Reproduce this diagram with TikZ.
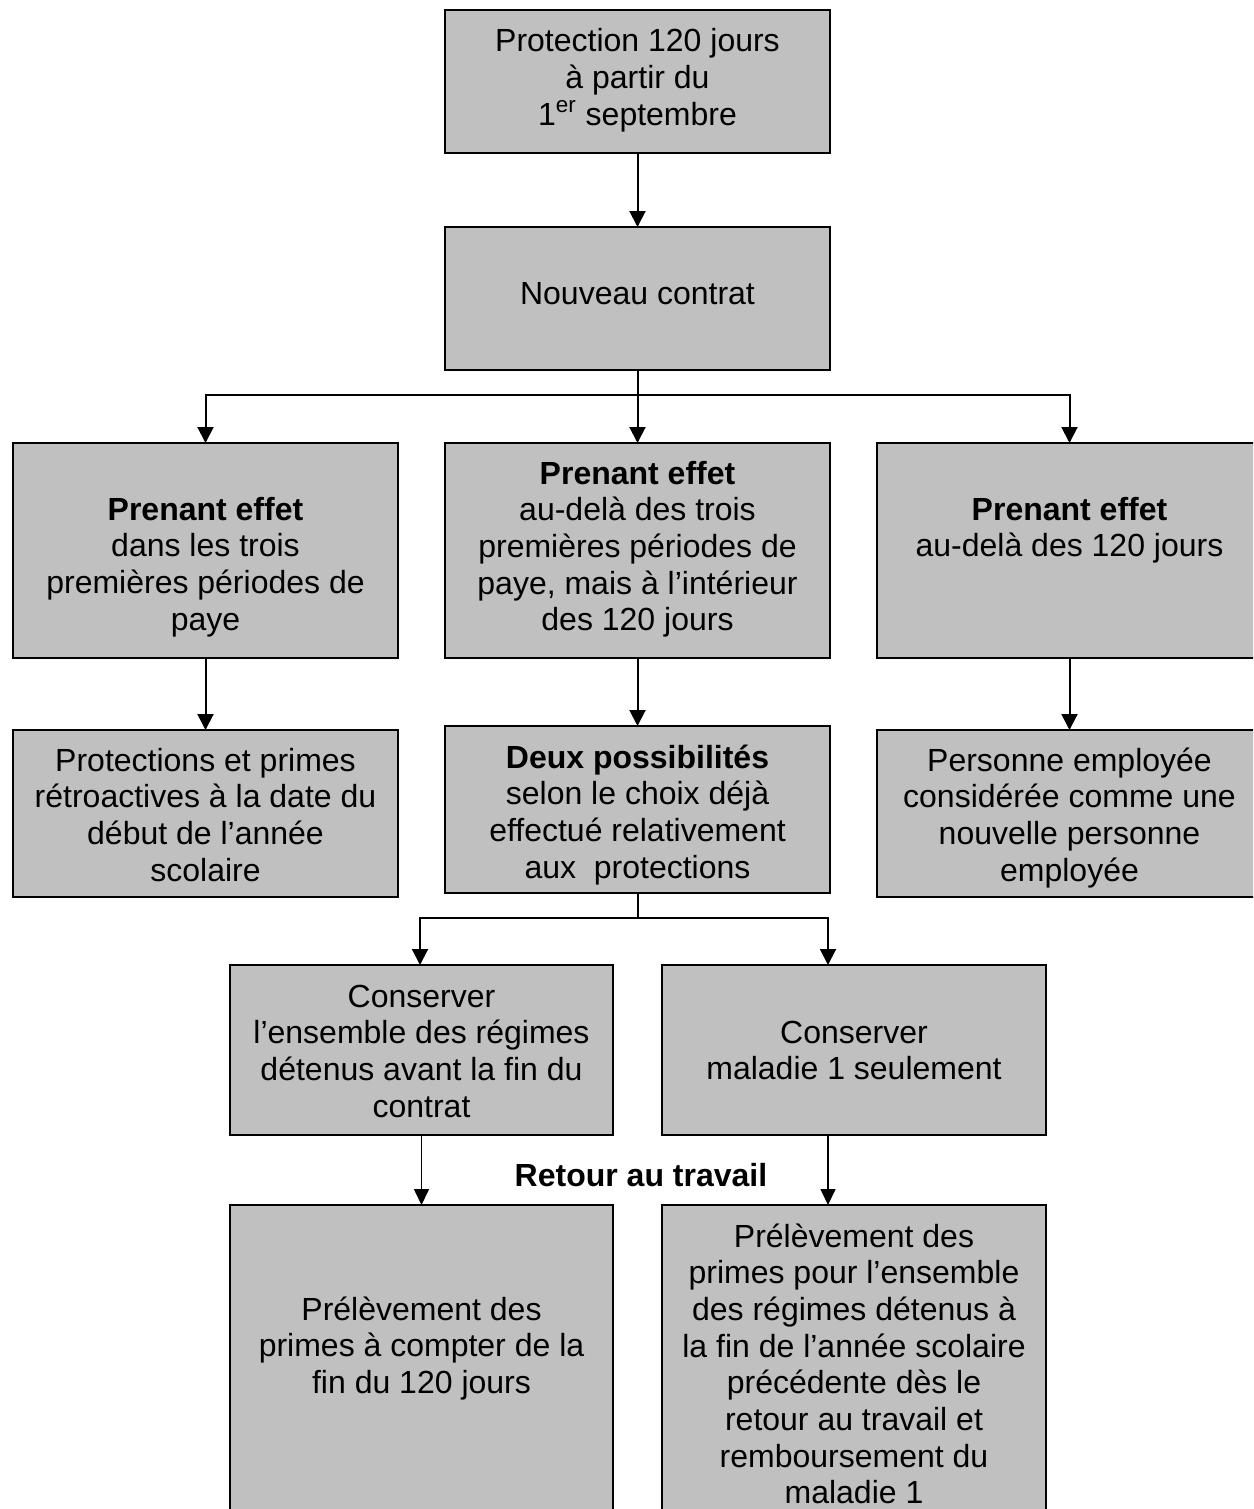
\documentclass[tikz,border=0pt]{standalone}
\usepackage{fontspec}
\setmainfont{Liberation Sans}
\usetikzlibrary{arrows.meta,calc}
\definecolor{boxgray}{HTML}{C0C0C0}
\newcommand\mlines[1]{\vtop{\baselineskip=18.35pt\lineskiplimit=-100pt\lineskip=0pt\halign{\hfil##\hfil\cr#1\crcr}}}
\tikzset{
  box/.style={rectangle, draw=black, fill=boxgray, line width=1pt, inner sep=0pt, outer sep=0pt, minimum width=192.5pt},
  txt/.style={anchor=base, inner sep=0pt, outer sep=0pt, font=\fontsize{16}{18.35}\selectfont},
  arr/.style={line width=1pt, -{Triangle[width=8pt,length=8pt]}},
  arrthin/.style={line width=0.8pt, -{Triangle[width=7.5pt,length=8pt]}}
}
\begin{document}
\begin{tikzpicture}[x=0.5pt,y=-0.5pt]
\useasboundingbox (0,0) rectangle (1253,1509);
\clip (0,0) rectangle (1253,1509);
% boxes
\node[box, minimum height=71.5pt] (b1) at (637.5,81.5) {};
\node[box, minimum height=71.5pt] (b2) at (637.5,298.5) {};
\node[box, minimum height=107.5pt] (r3l) at (205.5,550.5) {};
\node[box, minimum height=107.5pt] (r3m) at (637.5,550.5) {};
\node[box, minimum height=107.5pt] (r3r) at (1069.5,550.5) {};
\node[box, minimum height=83.5pt] (r4l) at (205.5,813.5) {};
\node[box, minimum height=83.5pt] (r4m) at (637.5,809.5) {};
\node[box, minimum height=83.5pt] (r4r) at (1069.5,813.5) {};
\node[box, minimum height=85pt, minimum width=191.5pt] (r5l) at (421.5,1050) {};
\node[box, minimum height=85pt, minimum width=192pt] (r5r) at (854,1050) {};
\node[box, minimum height=162.5pt, minimum width=191.5pt] (r6l) at (421.5,1367.5) {};
\node[box, minimum height=162.5pt, minimum width=192pt] (r6r) at (854,1367.5) {};
% texts
\node[txt] (t1) at (637.5,52) {\mlines{Protection 120 jours\cr à partir du\cr 1\textsuperscript{er} septembre}};
\node[txt] (t2) at (637.5,304) {Nouveau contrat};
\node[txt] (t3l) at (205.5,520) {\mlines{{\bfseries Prenant effet}\cr dans les trois\cr premières périodes de\cr paye}};
\node[txt] (t3m) at (637.5,484) {\mlines{{\bfseries Prenant effet}\cr au-delà des trois\cr premières périodes de\cr paye, mais à l’intérieur\cr des 120 jours}};
\node[txt] (t3r) at (1069.5,520) {\mlines{{\bfseries Prenant effet}\cr au-delà des 120 jours}};
\node[txt] (t4l) at (205.5,771) {\mlines{Protections et primes\cr rétroactives à la date du\cr début de l’année\cr scolaire}};
\node[txt] (t4m) at (637.5,768) {\mlines{{\bfseries Deux possibilités}\cr selon le choix déjà\cr effectué relativement\cr aux\ \ protections}};
\node[txt] (t4r) at (1069.5,771) {\mlines{Personne employée\cr considérée comme une\cr nouvelle personne\cr employée}};
\node[txt] (t5l) at (421.5,1007) {\mlines{Conserver\cr l’ensemble des régimes\cr détenus avant la fin du\cr contrat}};
\node[txt] (t5r) at (854,1043) {\mlines{Conserver\cr maladie 1 seulement}};
\node[txt] (t6l) at (421.5,1320) {\mlines{Prélèvement des\cr primes à compter de la\cr fin du 120 jours}};
\node[txt] (t6r) at (854,1247) {\mlines{Prélèvement des\cr primes pour l’ensemble\cr des régimes détenus à\cr la fin de l’année scolaire\cr précédente dès le\cr retour au travail et\cr remboursement du\cr maladie 1}};
\node[txt, font=\fontsize{16}{18.35}\selectfont\bfseries] (retour) at (641,1186) {Retour au travail};
% connectors
\draw[arr] (b1) -- (b2);
\draw[arr] (b2.south) -- ++(0,25) -| (r3l.north);
\draw[arr] (b2.south) -- (r3m.north);
\draw[arr] (b2.south) -- ++(0,25) -| (r3r.north);
\draw[arr] (r3l) -- (r4l);
\draw[arr] (r3m) -- (r4m);
\draw[arr] (r3r) -- (r4r);
\draw[arr] (r4m.south) -- ++(0,25) -| ($(r5l.north)+(-1.5,0)$);
\draw[arr] (r4m.south) -- ++(0,25) -| ($(r5r.north)+(-26,0)$);
\draw[arrthin] (r5l) -- (r6l);
\draw[arrthin] ($(r5r.south)+(-26,0)$) -- ($(r6r.north)+(-26,0)$);
\end{tikzpicture}
\end{document}
